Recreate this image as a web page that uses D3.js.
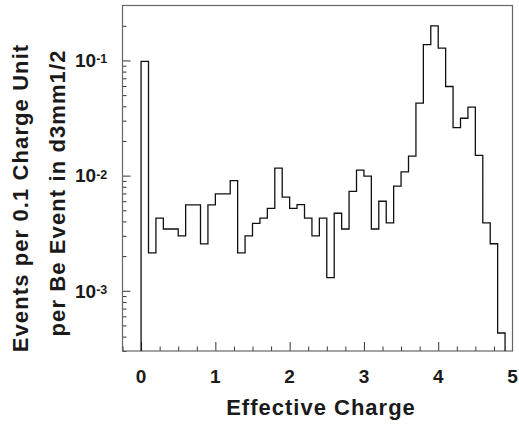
<!DOCTYPE html>
<html>
<head>
<meta charset="utf-8">
<script src="https://cdn.jsdelivr.net/npm/d3@7"></script>
<style>
  body { margin: 0; background: #fff; }
  text { font-family: "Liberation Sans", Arial, sans-serif; font-weight: bold; fill: #1a1a1a; }
</style>
</head>
<body>
<div id="chart"></div>
<script>
// bin lower edges (width 0.1) and contents
var binEdges = d3.range(0, 4.9, 0.1).map(function(d){ return +d.toFixed(1) })
var binValues = [
  0.098, 0.00213, 0.00428, 0.00344, 0.00344, 0.0030, 0.00556, 0.00556, 0.00255, 0.00556,
  0.00694, 0.00694, 0.00906, 0.00213, 0.0030, 0.00385, 0.00428, 0.0052, 0.0116, 0.0065,
  0.0052, 0.0056, 0.00428, 0.0030, 0.00428, 0.0013, 0.00471, 0.00344, 0.00731, 0.01114,
  0.00989, 0.00344, 0.00599, 0.00388, 0.0081, 0.01076, 0.01476, 0.0426, 0.137, 0.20,
  0.128, 0.0594, 0.0261, 0.0315, 0.0394, 0.0150, 0.00388, 0.00256, 0.00043
]
var xTickLabels = [0, 1, 2, 3, 4, 5]
var yMajorTicks = [1e-3, 1e-2, 1e-1]
var yTickExponents = ["-3", "-2", "-1"]

var width = 519, height = 424
var svg = d3.select('#chart').append('svg').attr('width', width).attr('height', height)

var x = d3.scaleLinear().domain([-0.25, 5]).range([122.5, 512.5])
var y = d3.scaleLog().domain([3e-4, 0.3]).range([351, 5.5])
var yMin = y.domain()[0]

// minor ticks on the log axis
var yMinor = []
;[1e-4, 1e-3, 1e-2, 1e-1].forEach(function(dec){
  for (var k = 2; k <= 9; k++){
    var v = dec * k
    if (v > yMin * 0.999 && v < y.domain()[1]) yMinor.push(v)
  }
})
var xMinor = d3.range(-0.25, 5.01, 0.25).filter(function(d){ return Math.abs(d - Math.round(d)) > 0.01 })

// ticks drawn with d3 axes pointing into the frame
var gx = svg.append('g').attr('transform', 'translate(0,' + y.range()[0] + ')')
gx.call(d3.axisBottom(x).tickValues(xTickLabels.filter(function(d){ return d < 5 })).tickSizeInner(-9).tickSizeOuter(0).tickFormat(''))
var gxm = svg.append('g').attr('transform', 'translate(0,' + y.range()[0] + ')')
gxm.call(d3.axisBottom(x).tickValues(xMinor).tickSizeInner(-4.5).tickSizeOuter(0).tickFormat(''))

var gy = svg.append('g').attr('transform', 'translate(' + x.range()[0] + ',0)')
gy.call(d3.axisLeft(y).tickValues(yMajorTicks).tickSizeInner(-8).tickSizeOuter(0).tickFormat(''))
var gym = svg.append('g').attr('transform', 'translate(' + x.range()[0] + ',0)')
gym.call(d3.axisLeft(y).tickValues(yMinor).tickSizeInner(-4).tickSizeOuter(0).tickFormat(''))

svg.selectAll('.domain').remove()
svg.selectAll('.tick line').attr('stroke', '#333').attr('stroke-width', 1)

// frame
svg.append('rect')
  .attr('x', x.range()[0]).attr('y', y.range()[1])
  .attr('width', x.range()[1] - x.range()[0])
  .attr('height', y.range()[0] - y.range()[1])
  .attr('fill', 'none').attr('stroke', '#666').attr('stroke-width', 1.2)

// histogram outline
var pts = [[binEdges[0], yMin]]
binValues.forEach(function(v, i){
  pts.push([binEdges[i], v])
  pts.push([binEdges[i] + 0.1, v])
})
pts.push([binEdges[binEdges.length - 1] + 0.1, yMin])

var line = d3.line()
  .x(function(d){ return x(d[0]) })
  .y(function(d){ return y(d[1]) })

svg.append('path')
  .datum(pts)
  .attr('d', line)
  .attr('fill', 'none')
  .attr('stroke', '#111')
  .attr('stroke-width', 1.3)

// x tick labels
svg.selectAll('.xlab').data(xTickLabels).enter().append('text')
  .attr('class', 'xlab')
  .attr('x', function(d){ return x(d) })
  .attr('y', 383)
  .attr('text-anchor', 'middle')
  .style('font-size', '19px')
  .text(function(d){ return d })

// y tick labels 10^n
var ylab = svg.selectAll('.ylab').data(yMajorTicks).enter().append('text')
  .attr('class', 'ylab')
  .attr('x', 75)
  .attr('y', function(d){ return y(d) + 6.8 })
  .style('font-size', '19px')
ylab.append('tspan').text('10')
ylab.append('tspan')
  .attr('dy', -3.8)
  .style('font-size', '12.5px')
  .text(function(d, i){ return yTickExponents[i] })

// axis titles
svg.append('text')
  .attr('x', 321).attr('y', 415)
  .attr('text-anchor', 'middle')
  .style('font-size', '22px')
  .style('letter-spacing', '1px')
  .text('Effective Charge')

var ty = svg.append('g').attr('transform', 'rotate(-90)')
ty.append('text')
  .attr('x', -198).attr('y', 28)
  .attr('text-anchor', 'middle')
  .style('font-size', '22px')
  .style('letter-spacing', '1.1px')
  .text('Events per 0.1 Charge Unit')
ty.append('text')
  .attr('x', -193).attr('y', 65)
  .attr('text-anchor', 'middle')
  .style('font-size', '22px')
  .style('letter-spacing', '1.1px')
  .text('per Be Event in d3mm1/2')
</script>
</body>
</html>
